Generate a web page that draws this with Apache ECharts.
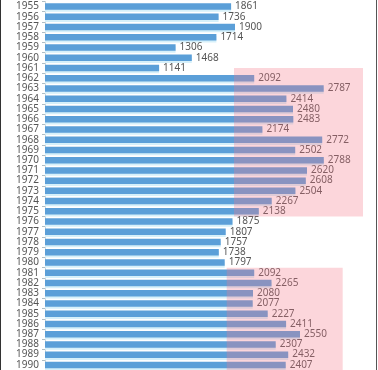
<!DOCTYPE html>
<html>
<head>
<meta charset="utf-8">
<script src="https://cdn.jsdelivr.net/npm/echarts@6/dist/echarts.min.js"></script>
<style>html,body{margin:0;padding:0;background:#fff}#c{width:378px;height:370px}</style>
</head>
<body>
<div id="c"></div>
<script>
const years = ['1955','1956','1957','1958','1959','1960','1961','1962','1963','1964','1965','1966','1967','1968','1969','1970','1971','1972','1973','1974','1975','1976','1977','1978','1979','1980','1981','1982','1983','1984','1985','1986','1987','1988','1989','1990'];
const values = [1861,1736,1900,1714,1306,1468,1141,2092,2787,2414,2480,2483,2174,2772,2502,2788,2620,2608,2504,2267,2138,1875,1807,1757,1738,1797,2092,2265,2080,2077,2227,2411,2550,2307,2432,2407];
// highlighted periods: [fromYear, toYear, fromValue, toValue]
const highlightStart = ['1962','1981'];
const highlightEnd = ['1975','1990'];
const highlightFrom = [1890,1817];
const highlightTo = [3180,2977];

const regionData = highlightStart.map((s,i)=>[years.indexOf(s), years.indexOf(highlightEnd[i]), highlightFrom[i], highlightTo[i], i===0 ? 0.5 : 0]);

const chart = echarts.init(document.getElementById('c'));
const font = '"Noto Sans", sans-serif';
chart.setOption({
  animation:false,
  grid:{left:45,right:3,top:1.5,bottom:-2,containLabel:false},
  xAxis:{type:'value',min:0,max:3300,show:false,splitLine:{show:false}},
  yAxis:{type:'category',data:years,inverse:true,
    axisLine:{show:true,lineStyle:{color:'#cfd8dc',width:1}},
    axisTick:{show:true,length:3,interval:0,lineStyle:{color:'#b0bec5'}},
    axisLabel:{color:'#555',fontSize:10,fontFamily:font,margin:6,interval:0}
  },
  series:[
    {type:'bar',data:values,barWidth:6.5,
      itemStyle:{color:'#5b9fd8',shadowColor:'#d6f0fa',shadowBlur:0,shadowOffsetY:2},
      label:{show:true,position:'right',distance:4,color:'#555',fontSize:10,fontFamily:font}
    },
    {type:'custom',z:10,data:regionData,
      encode:{x:[2,3],y:[0,1]},
      renderItem:function(params,api){
        const band = api.size([0,1])[1];
        const p0 = api.coord([api.value(2), api.value(0)]);
        const p1 = api.coord([api.value(3), api.value(1)]);
        const top = p0[1]-band/2 - api.value(4)*band;
        const bottom = p1[1]+band/2;
        return {type:'rect',shape:{x:p0[0],y:top,width:p1[0]-p0[0],height:bottom-top},
          style:{fill:'rgba(245,120,135,0.3)'}};
      }
    }
  ],
  graphic:[
    {type:'line',shape:{x1:0.5,y1:0,x2:0.5,y2:370},style:{stroke:'#333',lineWidth:1}},
    {type:'line',shape:{x1:376.5,y1:0,x2:376.5,y2:370},style:{stroke:'#555',lineWidth:1}}
  ]
});
</script>
</body>
</html>
